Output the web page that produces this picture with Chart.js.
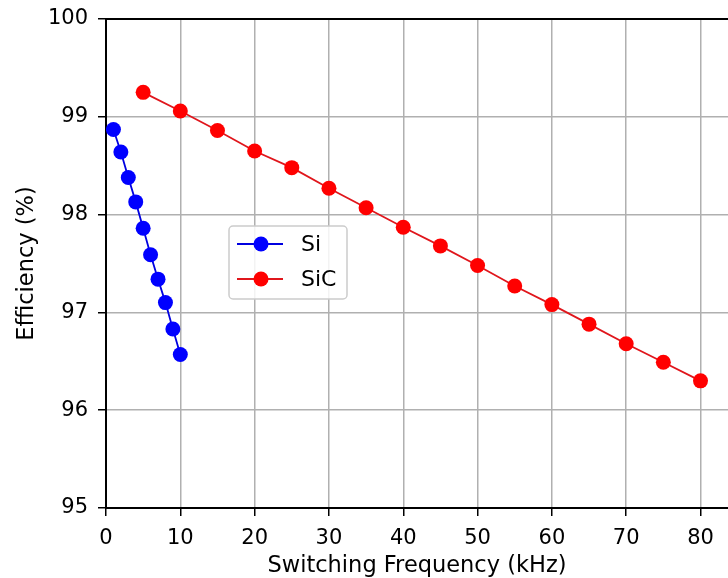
<!DOCTYPE html>
<html>
<head>
<meta charset="utf-8">
<script src="https://cdn.jsdelivr.net/npm/chart.js@4/dist/chart.umd.min.js"></script>
<style>
  html, body { margin: 0; padding: 0; background: #fff; overflow: hidden; }
  #wrap { width: 728px; height: 578px; }
</style>
</head>
<body>
<div id="wrap"><canvas id="effChart" width="728" height="578"></canvas></div>
<script>
// Efficiency vs switching frequency, Si and SiC devices
const siFreq = [1, 2, 3, 4, 5, 6, 7, 8, 9, 10];
const siEff = [98.87, 98.64, 98.38, 98.13, 97.86, 97.59, 97.34, 97.10, 96.83, 96.57];

const sicFreq = [5, 10, 15, 20, 25, 30, 35, 40, 45, 50, 55, 60, 65, 70, 75, 80];
const sicEff = [99.25, 99.06, 98.86, 98.65, 98.48, 98.27, 98.07, 97.87,
                97.68, 97.48, 97.27, 97.08, 96.88, 96.68, 96.49, 96.30];

const xTicks = [0, 10, 20, 30, 40, 50, 60, 70, 80];
const yTicks = [95, 96, 97, 98, 99, 100];

const FONT = "DejaVu Sans";

const toPoints = (xs, ys) => xs.map((x, i) => ({ x, y: ys[i] }));

// top frame line (the right one falls outside the canvas)
const frameTop = {
  id: "frameTop",
  afterDraw(chart) {
    const { ctx, chartArea } = chart;
    ctx.save();
    ctx.strokeStyle = "#000";
    ctx.lineWidth = 2;
    ctx.beginPath();
    ctx.moveTo(chartArea.left - 1, chartArea.top);
    ctx.lineTo(chartArea.right, chartArea.top);
    ctx.stroke();
    ctx.restore();
  },
};

// boxed legend placed inside the plot area
const boxLegend = {
  id: "boxLegend",
  afterDraw(chart) {
    const { ctx, chartArea } = chart;
    const x0 = chartArea.left + 123;
    const y0 = chartArea.top + 207;
    const w = 118, h = 73, rowGap = 35;
    ctx.save();
    ctx.fillStyle = "rgba(255,255,255,0.85)";
    ctx.strokeStyle = "#cccccc";
    ctx.lineWidth = 1.5;
    ctx.beginPath();
    ctx.roundRect(x0, y0, w, h, 4);
    ctx.fill();
    ctx.stroke();

    chart.data.datasets.forEach((ds, i) => {
      const cy = y0 + 18 + i * rowGap;
      ctx.strokeStyle = ds.borderColor;
      ctx.lineWidth = ds.borderWidth;
      ctx.beginPath();
      ctx.moveTo(x0 + 8, cy);
      ctx.lineTo(x0 + 54, cy);
      ctx.stroke();
      ctx.fillStyle = ds.pointBackgroundColor;
      ctx.beginPath();
      ctx.arc(x0 + 32, cy, 7.5, 0, Math.PI * 2);
      ctx.fill();
      ctx.fillStyle = "#000";
      ctx.font = `22px "${FONT}"`;
      ctx.textBaseline = "middle";
      ctx.textAlign = "left";
      ctx.fillText(ds.label, x0 + 72, cy + 1);
    });
    ctx.restore();
  },
};

const gridStyle = {
  color: "#b0b0b0",
  lineWidth: 1.5,
  tickColor: "#000",
  tickLength: 8,
  tickWidth: 1.5,
};

new Chart(document.getElementById("effChart"), {
  type: "line",
  data: {
    datasets: [
      {
        label: "Si",
        data: toPoints(siFreq, siEff),
        borderColor: "#0000e0",
        backgroundColor: "#0000ff",
        pointBackgroundColor: "#0000ff",
        pointBorderWidth: 0,
        pointRadius: 7.5,
        borderWidth: 1.8,
      },
      {
        label: "SiC",
        data: toPoints(sicFreq, sicEff),
        borderColor: "#e0161c",
        backgroundColor: "#ff0000",
        pointBackgroundColor: "#ff0000",
        pointBorderWidth: 0,
        pointRadius: 7.5,
        borderWidth: 1.8,
      },
    ],
  },
  options: {
    responsive: false,
    animation: false,
    events: [],
    layout: { autoPadding: false, padding: { top: 19, left: 0, right: 0, bottom: 0 } },
    plugins: {
      legend: { display: false },
      tooltip: { enabled: false },
    },
    scales: {
      x: {
        type: "linear",
        min: 0,
        max: 83.7,
        afterBuildTicks: (s) => { s.ticks = xTicks.map((v) => ({ value: v })); },
        afterFit: (s) => {
          s.height = 70;
          s.paddingLeft = 0;
          s.paddingRight = 0;
        },
        grid: gridStyle,
        border: { color: "#000", width: 2 },
        ticks: {
          color: "#000",
          font: { family: FONT, size: 21 },
          padding: 10,
          maxRotation: 0,
        },
        title: {
          display: true,
          text: "Switching Frequency (kHz)",
          color: "#000",
          font: { family: FONT, size: 22.5 },
          padding: { top: 0, bottom: -2 },
        },
      },
      y: {
        min: 95,
        max: 100,
        afterBuildTicks: (s) => { s.ticks = yTicks.map((v) => ({ value: v })); },
        afterFit: (s) => {
          s.width = 106;
          s.paddingTop = 0;
          s.paddingBottom = 0;
        },
        grid: gridStyle,
        border: { color: "#000", width: 2 },
        ticks: {
          color: "#000",
          font: { family: FONT, size: 21 },
          padding: 10,
        },
        title: {
          display: true,
          text: "Efficiency (%)",
          color: "#000",
          font: { family: FONT, size: 22.5 },
          padding: { top: 13.5, bottom: 0 },
        },
      },
    },
  },
  plugins: [frameTop, boxLegend],
});
</script>
</body>
</html>
